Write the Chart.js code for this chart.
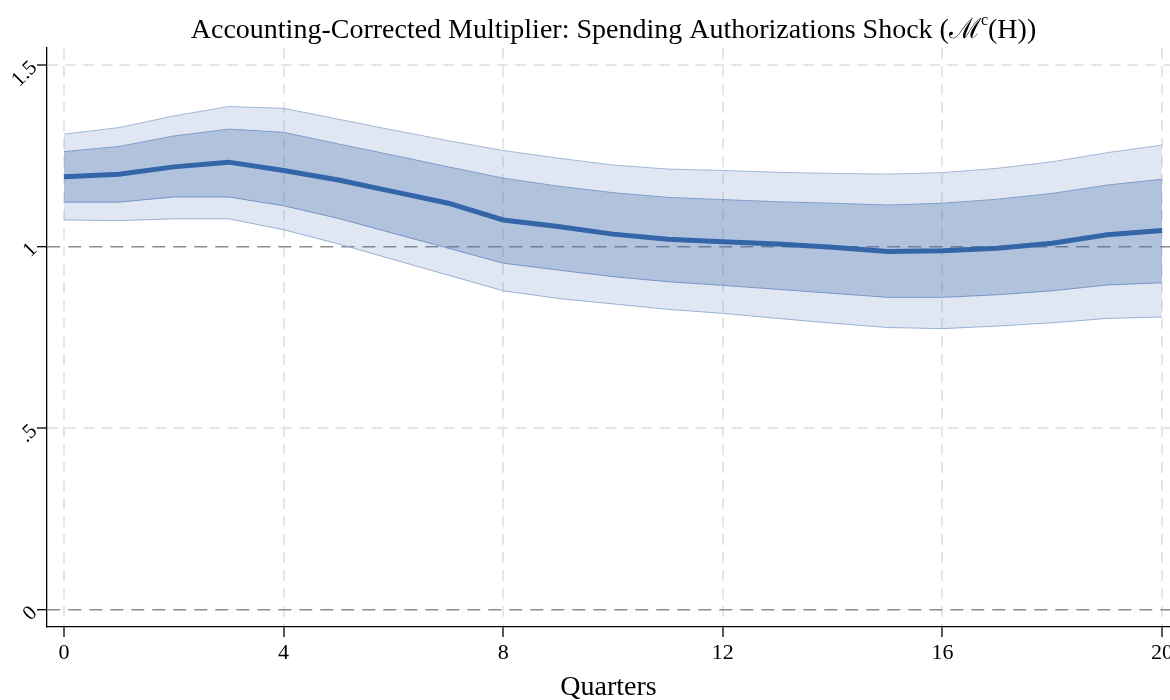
<!DOCTYPE html>
<html><head><meta charset="utf-8">
<script src="https://cdn.jsdelivr.net/npm/chart.js@4.4.1/dist/chart.umd.min.js"></script>
<style>html,body{margin:0;padding:0;background:#fff;}</style>
</head><body>
<canvas id="c" width="1170" height="700" style="display:block;width:1170px;height:700px"></canvas>
<script>
// ---- data ----
const quarters = [0,1,2,3,4,5,6,7,8,9,10,11,12,13,14,15,16,17,18,19,20];
const multiplier  = [1.192,1.199,1.219,1.232,1.209,1.183,1.151,1.119,1.073,1.055,1.034,1.020,1.013,1.007,0.998,0.986,0.988,0.995,1.009,1.032,1.044];
const band68Lower = [1.122,1.122,1.136,1.136,1.112,1.077,1.036,0.995,0.954,0.935,0.917,0.903,0.893,0.882,0.871,0.860,0.860,0.867,0.878,0.894,0.900];
const band68Upper = [1.261,1.275,1.304,1.323,1.314,1.282,1.251,1.219,1.188,1.166,1.148,1.135,1.129,1.123,1.119,1.114,1.119,1.130,1.146,1.169,1.185];
const band90Lower = [1.073,1.071,1.076,1.076,1.046,1.007,0.964,0.921,0.878,0.857,0.842,0.827,0.816,0.802,0.789,0.777,0.774,0.781,0.790,0.802,0.806];
const band90Upper = [1.309,1.327,1.359,1.385,1.380,1.350,1.320,1.291,1.264,1.243,1.224,1.213,1.209,1.204,1.201,1.199,1.203,1.215,1.233,1.258,1.279];
const yTickValues = [0, 0.5, 1, 1.5];
const yTickLabels = ['0', '.5', '1', '1.5'];
const xTickValues = [0, 4, 8, 12, 16, 20];
const referenceLines = [0, 1];
const titleMain = 'Accounting-Corrected Multiplier: Spending Authorizations Shock (';
const titleSymbol = '\u2133';
const titleSup = 'c';
const titleEnd = '(H))';
const xAxisTitle = 'Quarters';

// ---- helpers ----
const pts = arr => quarters.map((q, i) => ({x: q, y: arr[i]}));
const SERIF = '"Liberation Serif", "DejaVu Serif", "Times New Roman", serif';
const isRef = ctx => ctx && ctx.tick && referenceLines.includes(ctx.tick.value);

const titlePlugin = {
  id: 'stataTitle',
  afterDraw(chart) {
    const c = chart.ctx;
    c.save();
    c.fillStyle = '#000';
    c.textBaseline = 'alphabetic';
    const big = '28px ' + SERIF, small = '16px ' + SERIF;
    c.font = big;
    const w1 = c.measureText(titleMain).width;
    const w2 = c.measureText(titleSymbol).width;
    const w4 = c.measureText(titleEnd).width;
    c.font = small;
    const w3 = c.measureText(titleSup).width;
    const total = w1 + w2 + w3 + w4;
    let x = 613.5 - total / 2;
    const y = 38;
    c.textAlign = 'left';
    c.font = big;
    c.fillText(titleMain, x, y); x += w1;
    c.fillText(titleSymbol, x, y); x += w2;
    c.font = small;
    c.fillText(titleSup, x, y - 13); x += w3;
    c.font = big;
    c.fillText(titleEnd, x, y);
    c.restore();
  }
};

new Chart(document.getElementById('c'), {
  type: 'line',
  data: {
    datasets: [
      { label: 'Multiplier', data: pts(multiplier), borderColor: '#3465a8', borderWidth: 5, pointRadius: 0, fill: false, tension: 0 },
      { label: '68% upper', data: pts(band68Upper), borderColor: '#7f9dcb', borderWidth: 1, pointRadius: 0, fill: '+1', backgroundColor: 'rgba(70,110,175,0.30)', tension: 0 },
      { label: '68% lower', data: pts(band68Lower), borderColor: '#7f9dcb', borderWidth: 1, pointRadius: 0, fill: false, tension: 0 },
      { label: '90% upper', data: pts(band90Upper), borderColor: '#a2b7d9', borderWidth: 1, pointRadius: 0, fill: '+1', backgroundColor: 'rgba(70,110,175,0.17)', tension: 0 },
      { label: '90% lower', data: pts(band90Lower), borderColor: '#a2b7d9', borderWidth: 1, pointRadius: 0, fill: false, tension: 0 }
    ]
  },
  options: {
    responsive: false,
    devicePixelRatio: 1,
    animation: false,
    layout: { padding: { top: 48, left: 0, right: 0, bottom: 0 } },
    plugins: { legend: { display: false }, title: { display: false }, tooltip: { enabled: false } },
    scales: {
      x: {
        type: 'linear',
        min: -0.31,
        max: 20.146,
        afterBuildTicks: s => { s.ticks = xTickValues.map(v => ({ value: v })); },
        afterFit: s => { s.height = 73; s.paddingLeft = 0; s.paddingRight = 0; },
        ticks: { color: '#000', font: { family: SERIF, size: 22 }, padding: 3, maxRotation: 0, minRotation: 0, callback: v => String(v) },
        grid: { color: '#e6e6e6', lineWidth: 2, tickLength: 10, tickColor: '#000', tickWidth: 1.3 },
        border: { color: '#000', width: 1.3, dash: [11, 7] },
        title: { display: true, text: xAxisTitle, color: '#000', font: { family: SERIF, size: 28 }, padding: { top: 0, bottom: -4 } }
      },
      y: {
        type: 'linear',
        min: -0.0468,
        max: 1.546,
        afterBuildTicks: s => { s.ticks = yTickValues.map(v => ({ value: v })); },
        afterFit: s => { s.width = 47; },
        ticks: {
          color: '#000', font: { family: SERIF, size: 21 }, padding: 3, minRotation: 45, maxRotation: 45,
          callback: v => { const i = yTickValues.indexOf(v); return i >= 0 ? yTickLabels[i] : ''; }
        },
        grid: {
          color: ctx => isRef(ctx) ? '#8c8c8c' : '#e6e6e6',
          lineWidth: ctx => isRef(ctx) ? 1.4 : 2,
          tickLength: 10, tickColor: '#000', tickWidth: 1.3
        },
        border: { color: '#000', width: 1.3, dash: ctx => isRef(ctx) ? [13, 8] : [11, 7] }
      }
    }
  },
  plugins: [titlePlugin]
});
</script>
</body></html>
